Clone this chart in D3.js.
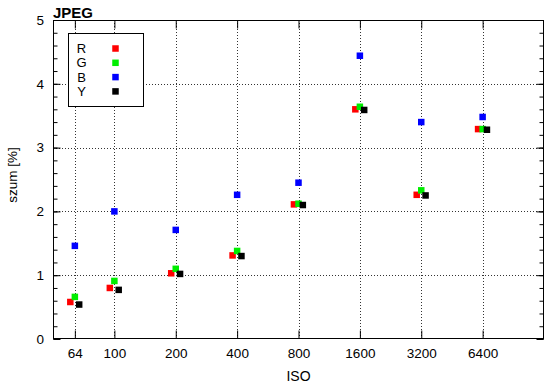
<!DOCTYPE html>
<html>
<head>
<meta charset="utf-8">
<script src="https://cdn.jsdelivr.net/npm/d3@7"></script>
<style>
  body { margin: 0; background: #fff; }
  text { font-family: "Liberation Sans", Arial, sans-serif; }
</style>
</head>
<body>
<div class="chart"></div>
<script>
// Data
const isoValues = [64, 100, 200, 400, 800, 1600, 3200, 6400];
const rValues = [0.58, 0.80, 1.03, 1.31, 2.11, 3.60, 2.26, 3.29];
const gValues = [0.66, 0.91, 1.10, 1.38, 2.12, 3.64, 2.33, 3.29];
const bValues = [1.46, 2.00, 1.71, 2.26, 2.45, 4.44, 3.40, 3.48];
const yValues = [0.54, 0.77, 1.02, 1.30, 2.10, 3.59, 2.25, 3.28];
const seriesNames = ["R", "G", "B", "Y"];
const yTicks = [0, 1, 2, 3, 4, 5];

const width = 550, height = 389;
const margin = { top: 20, right: 6, bottom: 50, left: 53 };

const svg = d3.select(".chart")
    .append("svg")
    .attr("width", width)
    .attr("height", height);

// Scales
const xScale = d3.scaleLog()
    .domain([50, 12800])
    .range([margin.left, width - margin.right]);

const yScale = d3.scaleLinear()
    .domain([0, 5])
    .range([height - margin.bottom, margin.top]);

const x0 = margin.left, x1 = width - margin.right;
const y0 = height - margin.bottom, y1 = margin.top;

// Dotted grid
const grid = svg.append("g")
    .attr("stroke", "#333")
    .attr("stroke-width", 1)
    .attr("stroke-dasharray", "1,2");

grid.selectAll(".vgrid")
    .data(isoValues)
    .enter()
    .append("line")
    .attr("x1", d => Math.round(xScale(d)) + 0.5)
    .attr("x2", d => Math.round(xScale(d)) + 0.5)
    .attr("y1", y0)
    .attr("y2", y1);

grid.selectAll(".hgrid")
    .data(yTicks.slice(1, -1))
    .enter()
    .append("line")
    .attr("x1", x0)
    .attr("x2", x1)
    .attr("y1", d => Math.round(yScale(d)) + 0.5)
    .attr("y2", d => Math.round(yScale(d)) + 0.5);

// Axes (ticks point inward, mirrored on the other side)
const minorY = d3.range(0, 5.01, 0.2).map(v => +v.toFixed(1));

const yLeft = svg.append("g")
    .attr("transform", `translate(${x0 + 0.5},0)`)
    .call(d3.axisRight(yScale).tickValues(minorY).tickSize(4).tickFormat(""));
yLeft.select(".domain").remove();

const yLeftMajor = svg.append("g")
    .attr("transform", `translate(${x0 + 0.5},0)`)
    .call(d3.axisRight(yScale).tickValues(yTicks).tickSize(7).tickFormat(""));
yLeftMajor.select(".domain").remove();

const yRight = svg.append("g")
    .attr("transform", `translate(${x1 - 0.5},0)`)
    .call(d3.axisLeft(yScale).tickValues(minorY).tickSize(4).tickFormat(""));
yRight.select(".domain").remove();

const yRightMajor = svg.append("g")
    .attr("transform", `translate(${x1 - 0.5},0)`)
    .call(d3.axisLeft(yScale).tickValues(yTicks).tickSize(7).tickFormat(""));
yRightMajor.select(".domain").remove();

// y tick labels
const yLabels = svg.append("g")
    .attr("transform", `translate(${x0},0)`)
    .call(d3.axisLeft(yScale).tickValues(yTicks).tickSize(0).tickPadding(9).tickFormat(d3.format("d")));
yLabels.select(".domain").remove();
yLabels.selectAll("text")
    .attr("font-size", 13.5)
    .attr("font-family", "Liberation Sans, Arial, sans-serif")
    .attr("fill", "#000");

const xBottom = svg.append("g")
    .attr("transform", `translate(0,${y0 - 0.5})`)
    .call(d3.axisTop(xScale).tickValues(isoValues).tickSize(8).tickFormat(""));
xBottom.select(".domain").remove();

const xTop = svg.append("g")
    .attr("transform", `translate(0,${y1 + 0.5})`)
    .call(d3.axisBottom(xScale).tickValues(isoValues).tickSize(8).tickFormat(""));
xTop.select(".domain").remove();

const xLabels = svg.append("g")
    .attr("transform", `translate(0,${y0})`)
    .call(d3.axisBottom(xScale).tickValues(isoValues).tickSize(0).tickPadding(9).tickFormat(d => d));
xLabels.select(".domain").remove();
xLabels.selectAll("text")
    .attr("font-size", 13.5)
    .attr("font-family", "Liberation Sans, Arial, sans-serif")
    .attr("fill", "#000");

svg.selectAll(".tick line").attr("stroke", "#000");

// Frame
svg.append("rect")
    .attr("x", x0 + 0.5)
    .attr("y", y1 + 0.5)
    .attr("width", x1 - x0 - 1)
    .attr("height", y0 - y1 - 1)
    .attr("fill", "none")
    .attr("stroke", "#000");

// Points, slightly shifted so the series do not hide each other
const series = [
    { name: seriesNames[0], values: rValues, color: "#ff0000", shift: 0.95 },
    { name: seriesNames[1], values: gValues, color: "#00ee00", shift: 1.0 },
    { name: seriesNames[2], values: bValues, color: "#0000ff", shift: 1.0 },
    { name: seriesNames[3], values: yValues, color: "#000000", shift: 1.05 }
];
const size = 6.5;

series.forEach(s => {
    svg.append("g")
        .selectAll("rect")
        .data(isoValues.map((iso, i) => ({ iso, value: s.values[i] })))
        .enter()
        .append("rect")
        .attr("x", d => xScale(d.iso * s.shift) - size / 2)
        .attr("y", d => yScale(d.value) - size / 2)
        .attr("width", size)
        .attr("height", size)
        .attr("fill", s.color);
});

// Legend box
const legend = svg.append("g").attr("transform", "translate(68.5,33.5)");
legend.append("rect")
    .attr("width", 75)
    .attr("height", 73)
    .attr("fill", "#fff")
    .attr("stroke", "#000");

series.forEach((s, i) => {
    const cy = 15 + i * 14.3;
    legend.append("text")
        .attr("x", 13)
        .attr("y", cy)
        .attr("dy", "0.36em")
        .attr("text-anchor", "middle")
        .attr("font-size", 13)
        .text(s.name);
    legend.append("rect")
        .attr("x", 47 - size / 2)
        .attr("y", cy - size / 2)
        .attr("width", size)
        .attr("height", size)
        .attr("fill", s.color);
});

// Title and axis labels
svg.append("text")
    .attr("x", 53)
    .attr("y", 18)
    .attr("font-size", 15)
    .attr("font-weight", "bold")
    .text("JPEG");

svg.append("text")
    .attr("x", xScale(800))
    .attr("y", 381)
    .attr("text-anchor", "middle")
    .attr("font-size", 14)
    .text("ISO");

svg.append("text")
    .attr("transform", "rotate(-90)")
    .attr("x", -175)
    .attr("y", 17)
    .attr("text-anchor", "middle")
    .attr("font-size", 13.5)
    .text("szum [%]");
</script>
</body>
</html>
